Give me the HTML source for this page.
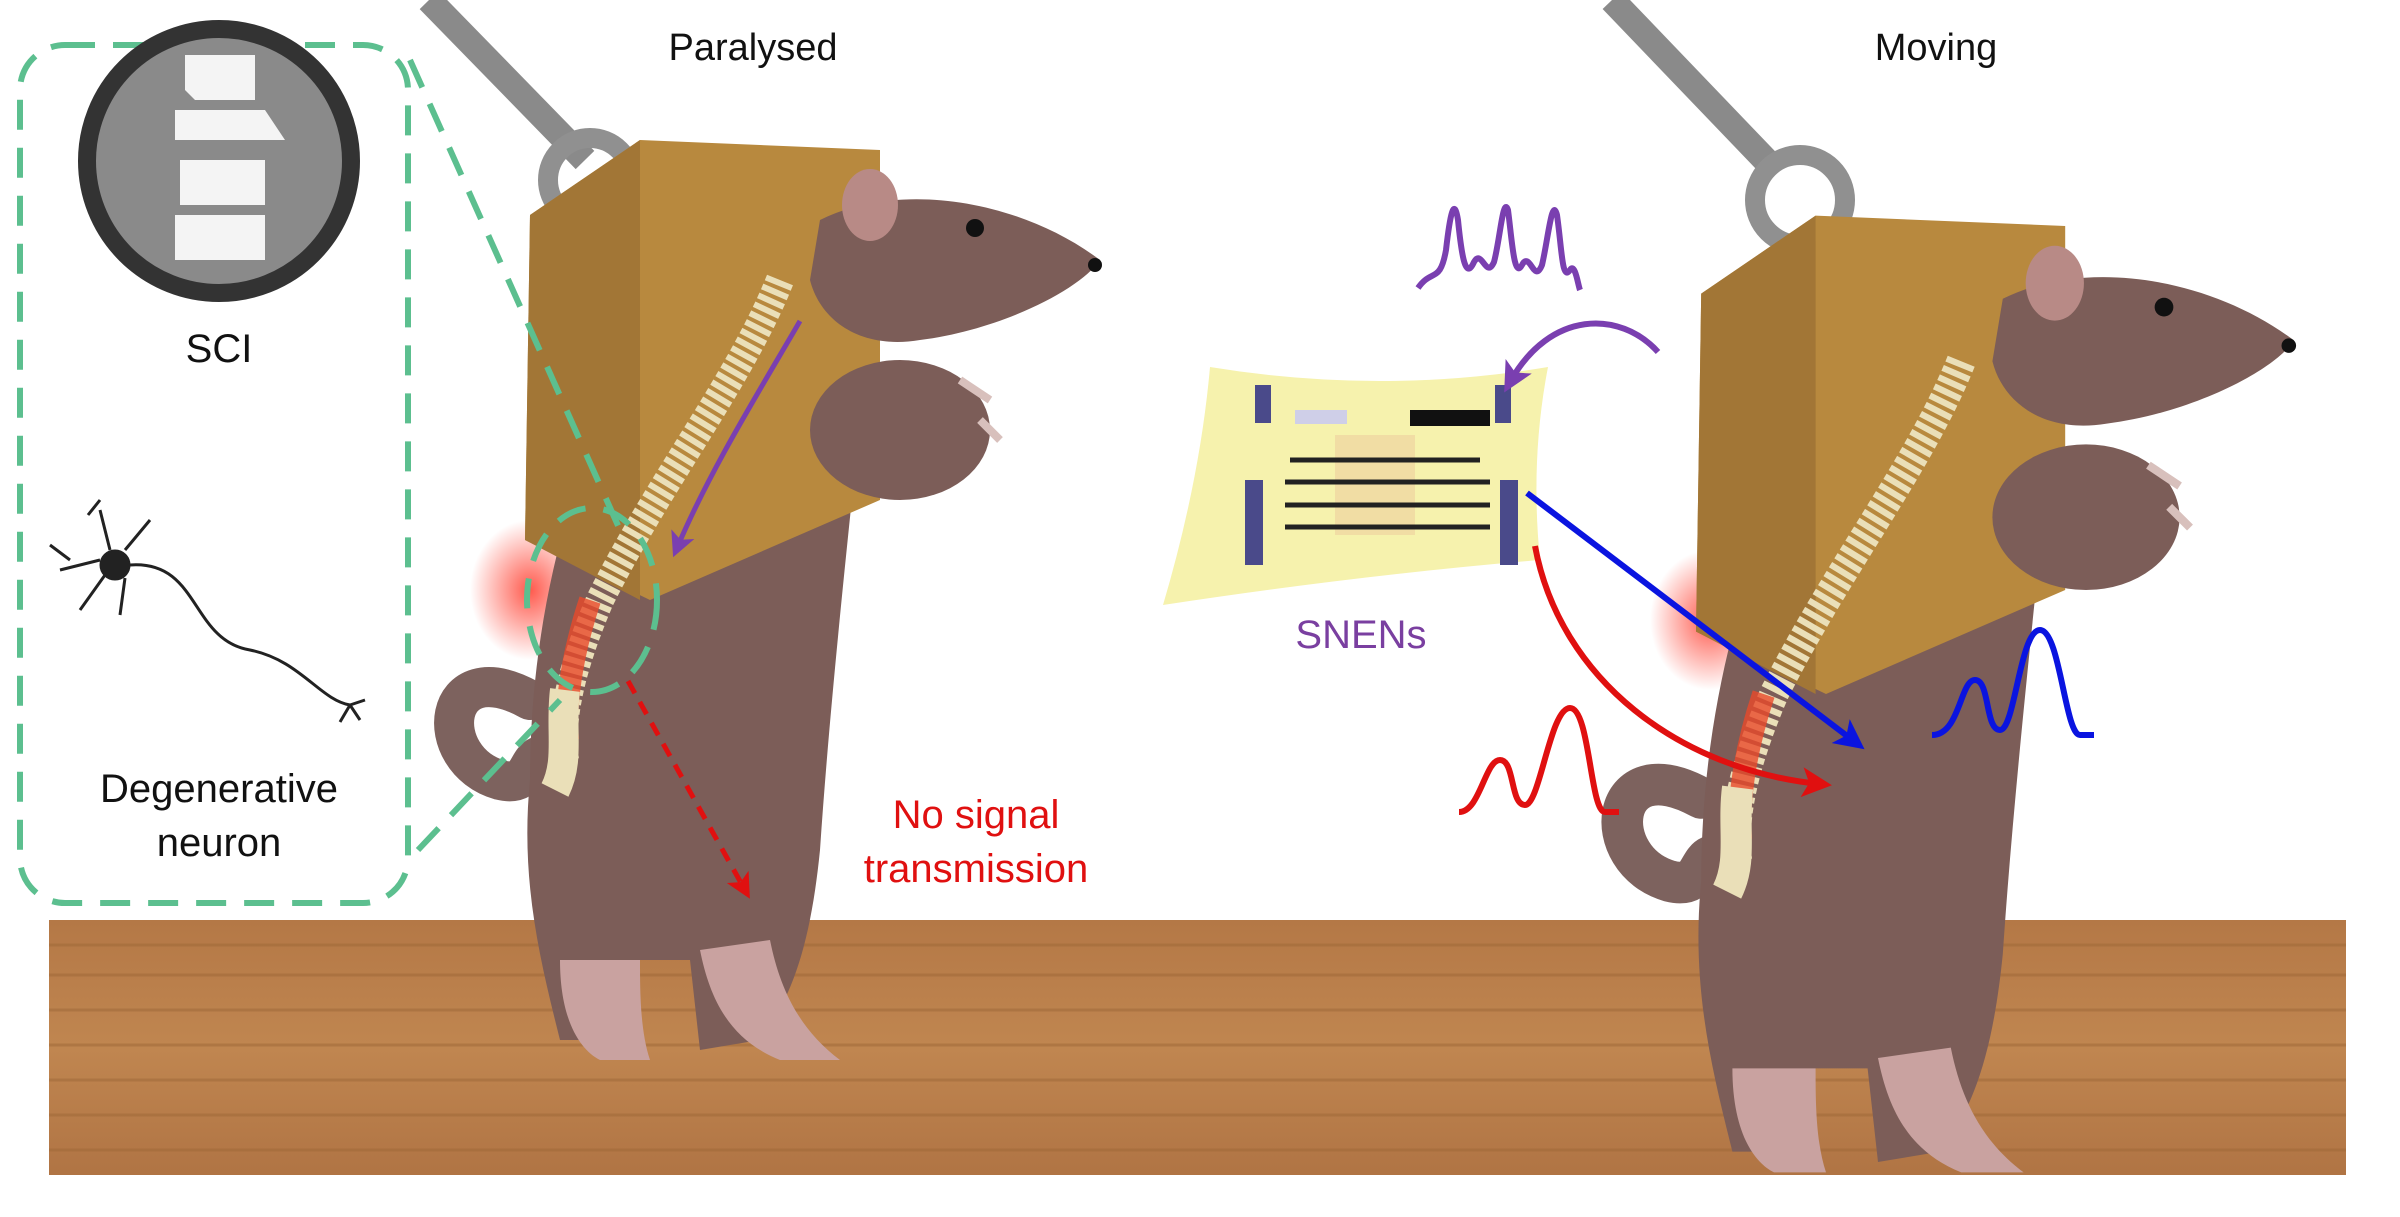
<!DOCTYPE html>
<html><head><meta charset="utf-8"><style>
html,body{margin:0;padding:0;background:#fff;}
svg{display:block}
text{font-family:"Liberation Sans",sans-serif}
</style></head><body>
<svg width="2400" height="1217" viewBox="0 0 2400 1217" xmlns="http://www.w3.org/2000/svg">
<defs>
<linearGradient id="wood" x1="0" y1="0" x2="0" y2="1">
<stop offset="0" stop-color="#b47846"/><stop offset="0.5" stop-color="#c08650"/><stop offset="1" stop-color="#b07444"/>
</linearGradient>
<radialGradient id="glow" cx="0.5" cy="0.5" r="0.5"><stop offset="0" stop-color="#ff3020" stop-opacity="0.8"/><stop offset="1" stop-color="#ff3020" stop-opacity="0"/></radialGradient>
<marker id="ap" markerWidth="5" markerHeight="5" refX="3" refY="2.5" orient="auto" markerUnits="strokeWidth"><path d="M0,0 L5,2.5 L0,5 L1.2,2.5z" fill="#7a3fb0"/></marker>
<marker id="ar" markerWidth="5" markerHeight="5" refX="3" refY="2.5" orient="auto" markerUnits="strokeWidth"><path d="M0,0 L5,2.5 L0,5 L1.2,2.5z" fill="#e01010"/></marker>
<marker id="ab" markerWidth="5" markerHeight="5" refX="3" refY="2.5" orient="auto" markerUnits="strokeWidth"><path d="M0,0 L5,2.5 L0,5 L1.2,2.5z" fill="#0a14e0"/></marker>
<g id="rat">
 <path d="M530,700 C440,650 430,760 500,780 C540,790 520,740 560,760" fill="none" stroke="#7d625e" stroke-width="40" stroke-linecap="round"/>
 <path d="M700,260 C800,240 880,300 860,420 C850,520 830,700 820,850 C810,950 790,1000 760,1040 L700,1050 L690,960 L640,960 L620,1040 L560,1040 C540,960 520,880 530,780 C530,640 560,520 600,420 C630,340 650,280 700,260z" fill="#7c5d58"/>
 <path d="M560,960 C560,1020 580,1050 600,1060 L650,1060 C640,1030 640,990 640,960z" fill="#c9a2a0"/>
 <path d="M700,950 C710,1000 730,1040 780,1060 L840,1060 C800,1030 780,990 770,940z" fill="#c9a2a0"/>
 <polygon points="530,215 640,140 880,150 880,500 650,600 525,540" fill="#b8893e"/>
 <polygon points="530,215 640,140 640,600 525,540" fill="#a27636"/>
 <path d="M820,220 C900,180 1020,200 1100,260 C1080,290 1000,330 920,340 C860,350 820,320 810,280z" fill="#7c5d58"/>
 <ellipse cx="900" cy="430" rx="90" ry="70" fill="#7c5d58"/>
 <ellipse cx="870" cy="205" rx="28" ry="36" fill="#b88a86"/>
 <circle cx="975" cy="228" r="9" fill="#111"/>
 <circle cx="1095" cy="265" r="7" fill="#111"/>
 <path d="M980,420 L1000,440 M960,380 L990,400" stroke="#d8c0bc" stroke-width="8"/>
 <path d="M780,280 C740,380 660,480 600,600 C570,670 560,720 565,760" fill="none" stroke="#eadfb8" stroke-width="28" stroke-dasharray="6 4"/>
 <path d="M590,600 C570,660 565,710 568,740" fill="none" stroke="#e84a2a" stroke-width="22" opacity="0.8"/>
 <path d="M565,690 C560,730 570,760 555,790" fill="none" stroke="#eadfb8" stroke-width="30"/>
</g>
</defs>

<rect x="49" y="920" width="2297" height="255" fill="url(#wood)"/>
<g stroke="#9e6838" stroke-width="3" opacity="0.5">
<line x1="49" y1="945" x2="2346" y2="945"/><line x1="49" y1="975" x2="2346" y2="975"/><line x1="49" y1="1010" x2="2346" y2="1010"/><line x1="49" y1="1045" x2="2346" y2="1045"/><line x1="49" y1="1080" x2="2346" y2="1080"/><line x1="49" y1="1115" x2="2346" y2="1115"/><line x1="49" y1="1150" x2="2346" y2="1150"/>
</g>

<line x1="429" y1="0" x2="585" y2="160" stroke="#8a8a8a" stroke-width="26"/>
<circle cx="590" cy="180" r="42" fill="none" stroke="#909090" stroke-width="20"/>
<line x1="1612" y1="0" x2="1775" y2="170" stroke="#8a8a8a" stroke-width="26"/>
<circle cx="1800" cy="200" r="45" fill="none" stroke="#909090" stroke-width="20"/>

<ellipse cx="530" cy="590" rx="60" ry="70" fill="url(#glow)"/>
<use href="#rat"/>
<ellipse cx="1710" cy="620" rx="60" ry="70" fill="url(#glow)"/>
<g transform="translate(1150,70) scale(1.04)"><use href="#rat"/></g>

<rect x="20" y="45" width="388" height="858" rx="45" fill="none" stroke="#5cbf8f" stroke-width="6" stroke-dasharray="30 18"/>
<line x1="410" y1="60" x2="620" y2="530" stroke="#5cbf8f" stroke-width="6" stroke-dasharray="30 18"/>
<line x1="418" y1="850" x2="560" y2="700" stroke="#5cbf8f" stroke-width="6" stroke-dasharray="30 18"/>
<ellipse cx="592" cy="600" rx="65" ry="92" fill="none" stroke="#5cbf8f" stroke-width="6" stroke-dasharray="30 18"/>

<circle cx="219" cy="161" r="132" fill="#8a8a8a" stroke="#333" stroke-width="18"/>
<path d="M185,55 h70 v45 h-60 l-10,-10z M175,110 h90 l20,30 h-110z M180,160 h85 v45 h-85z M175,215 h90 v45 h-90z" fill="#f4f4f4"/>
<text x="219" y="362" font-size="40" text-anchor="middle" fill="#111">SCI</text>

<g stroke="#222" fill="none" stroke-width="3">
<circle cx="115" cy="565" r="14" fill="#222"/>
<path d="M100,560 L60,570 M110,550 L100,510 M125,550 L150,520 M105,575 L80,610 M125,578 L120,615 M88,515 L100,500 M70,560 L50,545"/>
<path d="M130,565 C200,560 190,640 250,650 C300,660 320,700 350,705 L365,700 M350,705 L360,720 M350,705 L340,722"/>
</g>
<text x="219" y="802" font-size="40" text-anchor="middle" fill="#111">Degenerative</text>
<text x="219" y="856" font-size="40" text-anchor="middle" fill="#111">neuron</text>

<text x="753" y="60" font-size="38" text-anchor="middle" fill="#111">Paralysed</text>
<text x="1936" y="60" font-size="38" text-anchor="middle" fill="#111">Moving</text>

<path d="M800,321 C760,390 710,470 677,548" fill="none" stroke="#7a3fb0" stroke-width="5" marker-end="url(#ap)"/>
<path d="M628,681 L745,890" fill="none" stroke="#e01010" stroke-width="5" stroke-dasharray="14 10" marker-end="url(#ar)"/>
<text x="976" y="828" font-size="40" text-anchor="middle" fill="#e01010">No signal</text>
<text x="976" y="882" font-size="40" text-anchor="middle" fill="#e01010">transmission</text>

<path d="M1210,367 Q1380,395 1548,367 Q1530,460 1540,560 Q1360,575 1163,605 Q1200,480 1210,367z" fill="#f6f2ad"/>
<g fill="#4a4a8a">
<rect x="1255" y="385" width="16" height="38"/><rect x="1495" y="385" width="16" height="38"/>
<rect x="1245" y="480" width="18" height="85"/><rect x="1500" y="480" width="18" height="85"/>
</g>
<rect x="1295" y="410" width="52" height="14" fill="#cfcfe8"/>
<rect x="1410" y="410" width="80" height="16" fill="#111"/>
<rect x="1335" y="435" width="80" height="100" fill="#f0d4a0" opacity="0.7"/>
<g stroke="#222" stroke-width="5"><line x1="1290" y1="460" x2="1480" y2="460"/><line x1="1285" y1="482" x2="1490" y2="482"/><line x1="1285" y1="505" x2="1490" y2="505"/><line x1="1285" y1="527" x2="1490" y2="527"/></g>
<text x="1361" y="648" font-size="40" text-anchor="middle" fill="#7a3fa0">SNENs</text>

<path d="M1418,288 C1432,268 1440,284 1446,250 C1450,215 1454,195 1458,220 C1462,260 1466,280 1474,262 C1482,248 1486,280 1494,262 C1500,240 1503,195 1508,210 C1512,240 1514,280 1522,265 C1530,250 1534,285 1542,265 C1548,240 1552,195 1557,215 C1562,250 1562,282 1570,270 C1575,262 1578,285 1580,290" fill="none" stroke="#7a3fb0" stroke-width="6"/>
<path d="M1658,352 C1620,310 1550,310 1510,382" fill="none" stroke="#7a3fb0" stroke-width="6" marker-end="url(#ap)"/>

<path d="M1527,493 L1855,742" fill="none" stroke="#0a14e0" stroke-width="6" marker-end="url(#ab)"/>
<path d="M1932,735 C1960,735 1960,680 1975,680 C1990,680 1985,730 2000,730 C2015,730 2020,630 2040,630 C2060,630 2065,735 2080,735 L2094,735" fill="none" stroke="#0a14e0" stroke-width="6"/>

<path d="M1535,546 C1560,680 1680,770 1820,784" fill="none" stroke="#e01010" stroke-width="6" marker-end="url(#ar)"/>
<path d="M1459,812 C1480,812 1485,760 1500,760 C1515,760 1510,805 1525,805 C1540,805 1550,708 1570,708 C1590,708 1590,812 1605,812 L1619,812" fill="none" stroke="#e01010" stroke-width="6"/>
</svg>
</body></html>
